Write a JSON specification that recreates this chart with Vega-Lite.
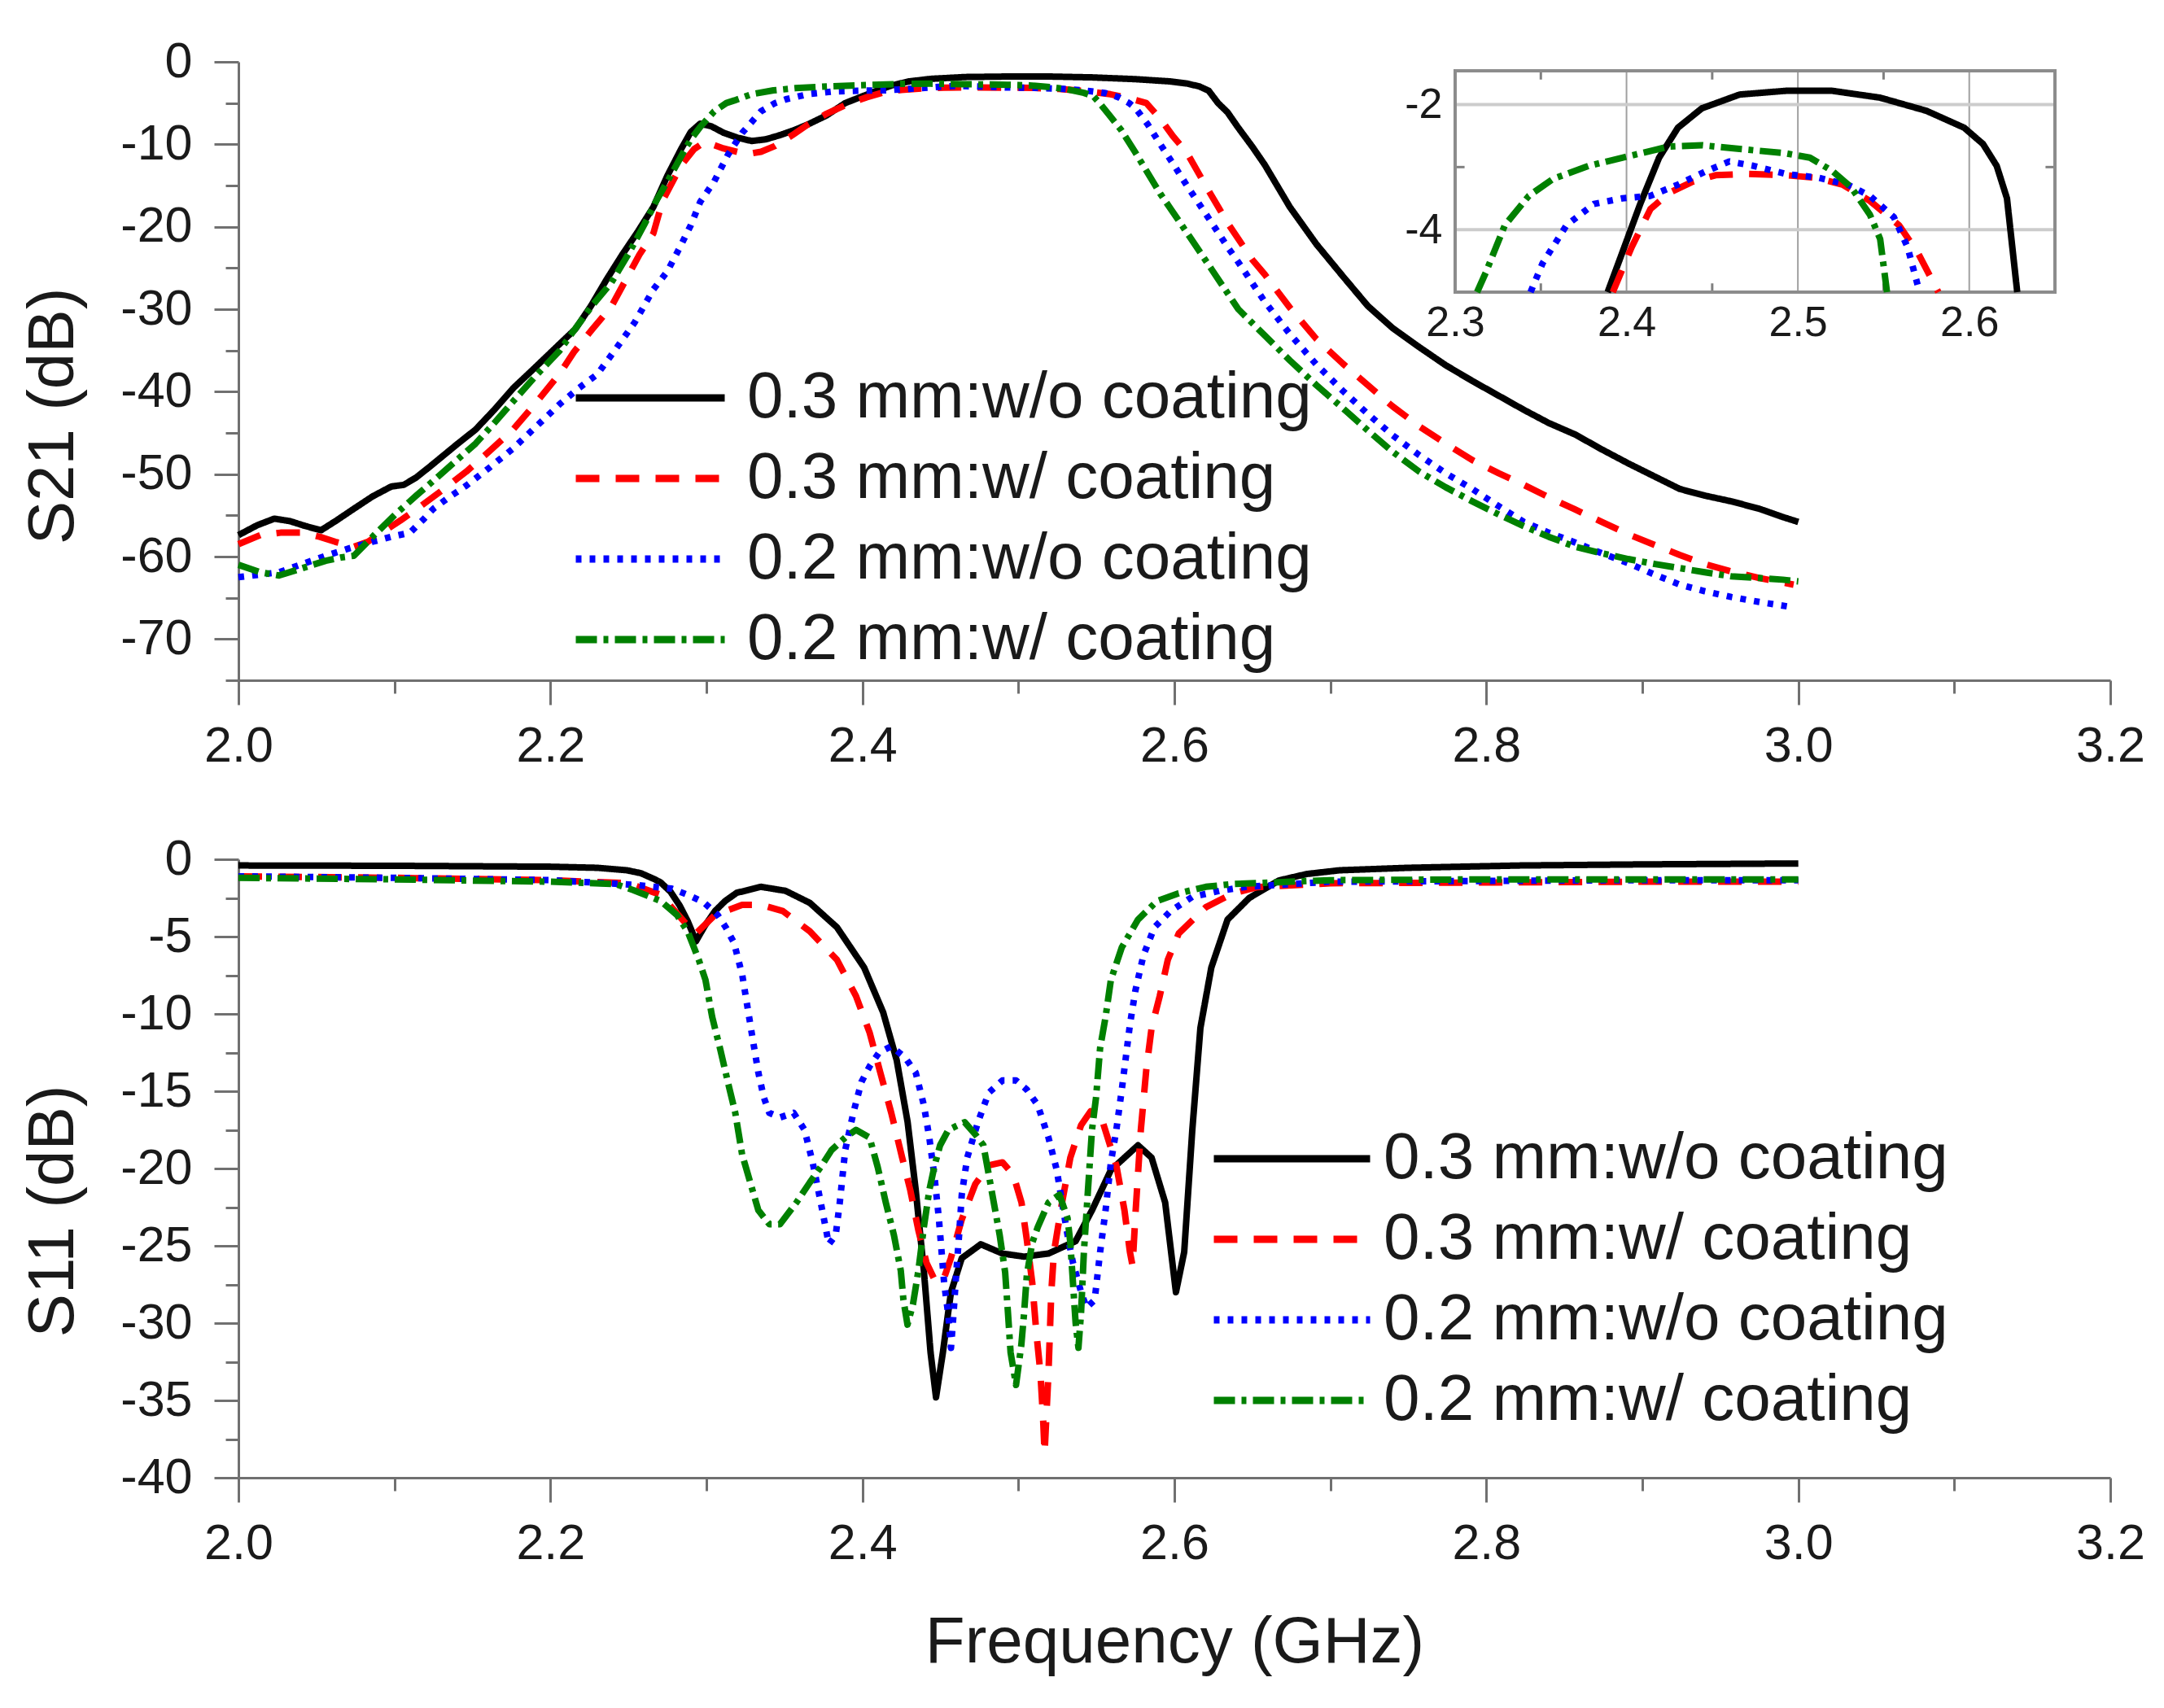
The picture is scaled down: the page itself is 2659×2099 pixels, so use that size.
{
"$schema": "https://vega.github.io/schema/vega-lite/v6.json",
"padding": {"left": 25, "top": 45, "right": 20, "bottom": 10},
"background": "white",
"bounds": "flush",
"spacing": 220,
"config": {
  "view": {"stroke": null},
  "font": "Liberation Sans",
  "axis": {"domainColor": "#707070", "tickColor": "#707070", "domainWidth": 3, "tickWidth": 3, "labelFont": "Liberation Sans", "labelColor": "#1a1a1a", "titleFont": "Liberation Sans", "titleFontWeight": "normal", "titleColor": "#1a1a1a", "grid": false, "labelFlush": false, "labelOverlap": false},
  "legend": {"title": null, "symbolType": "stroke", "labelFont": "Liberation Sans", "labelFontSize": 80, "labelColor": "#1a1a1a", "padding": 0, "rowPadding": 19, "clipHeight": 80, "symbolStrokeWidth": 9, "symbolOpacity": 1, "labelLimit": 2000}
},
"datasets": {
"s21": [
{"series":"0.3 mm:w/o coating","f":2.0,"db":-57.4},{"series":"0.3 mm:w/o coating","f":2.012,"db":-56.2},{"series":"0.3 mm:w/o coating","f":2.023,"db":-55.4},{"series":"0.3 mm:w/o coating","f":2.033,"db":-55.7},{"series":"0.3 mm:w/o coating","f":2.043,"db":-56.3},{"series":"0.3 mm:w/o coating","f":2.053,"db":-56.8},{"series":"0.3 mm:w/o coating","f":2.063,"db":-55.6},{"series":"0.3 mm:w/o coating","f":2.074,"db":-54.2},{"series":"0.3 mm:w/o coating","f":2.086,"db":-52.7},{"series":"0.3 mm:w/o coating","f":2.098,"db":-51.5},{"series":"0.3 mm:w/o coating","f":2.106,"db":-51.3},{"series":"0.3 mm:w/o coating","f":2.114,"db":-50.4},{"series":"0.3 mm:w/o coating","f":2.122,"db":-49.2},{"series":"0.3 mm:w/o coating","f":2.131,"db":-47.8},{"series":"0.3 mm:w/o coating","f":2.14,"db":-46.4},{"series":"0.3 mm:w/o coating","f":2.152,"db":-44.6},{"series":"0.3 mm:w/o coating","f":2.164,"db":-42.2},{"series":"0.3 mm:w/o coating","f":2.176,"db":-39.6},{"series":"0.3 mm:w/o coating","f":2.19,"db":-37.1},{"series":"0.3 mm:w/o coating","f":2.206,"db":-34.2},{"series":"0.3 mm:w/o coating","f":2.216,"db":-32.4},{"series":"0.3 mm:w/o coating","f":2.226,"db":-29.6},{"series":"0.3 mm:w/o coating","f":2.236,"db":-26.4},{"series":"0.3 mm:w/o coating","f":2.246,"db":-23.4},{"series":"0.3 mm:w/o coating","f":2.256,"db":-20.6},{"series":"0.3 mm:w/o coating","f":2.266,"db":-17.6},{"series":"0.3 mm:w/o coating","f":2.275,"db":-13.8},{"series":"0.3 mm:w/o coating","f":2.284,"db":-10.5},{"series":"0.3 mm:w/o coating","f":2.29,"db":-8.5},{"series":"0.3 mm:w/o coating","f":2.296,"db":-7.5},{"series":"0.3 mm:w/o coating","f":2.303,"db":-7.8},{"series":"0.3 mm:w/o coating","f":2.311,"db":-8.6},{"series":"0.3 mm:w/o coating","f":2.32,"db":-9.2},{"series":"0.3 mm:w/o coating","f":2.329,"db":-9.6},{"series":"0.3 mm:w/o coating","f":2.338,"db":-9.4},{"series":"0.3 mm:w/o coating","f":2.347,"db":-8.9},{"series":"0.3 mm:w/o coating","f":2.356,"db":-8.3},{"series":"0.3 mm:w/o coating","f":2.365,"db":-7.6},{"series":"0.3 mm:w/o coating","f":2.377,"db":-6.5},{"series":"0.3 mm:w/o coating","f":2.389,"db":-5.0},{"series":"0.3 mm:w/o coating","f":2.3975,"db":-4.37},{"series":"0.3 mm:w/o coating","f":2.408,"db":-3.59},{"series":"0.3 mm:w/o coating","f":2.419,"db":-2.85},{"series":"0.3 mm:w/o coating","f":2.43,"db":-2.37},{"series":"0.3 mm:w/o coating","f":2.444,"db":-2.06},{"series":"0.3 mm:w/o coating","f":2.466,"db":-1.84},{"series":"0.3 mm:w/o coating","f":2.493,"db":-1.78},{"series":"0.3 mm:w/o coating","f":2.52,"db":-1.78},{"series":"0.3 mm:w/o coating","f":2.548,"db":-1.89},{"series":"0.3 mm:w/o coating","f":2.575,"db":-2.1},{"series":"0.3 mm:w/o coating","f":2.597,"db":-2.37},{"series":"0.3 mm:w/o coating","f":2.608,"db":-2.63},{"series":"0.3 mm:w/o coating","f":2.616,"db":-2.98},{"series":"0.3 mm:w/o coating","f":2.622,"db":-3.5},{"series":"0.3 mm:w/o coating","f":2.628,"db":-5.0},{"series":"0.3 mm:w/o coating","f":2.634,"db":-6.1},{"series":"0.3 mm:w/o coating","f":2.641,"db":-8.0},{"series":"0.3 mm:w/o coating","f":2.65,"db":-10.3},{"series":"0.3 mm:w/o coating","f":2.658,"db":-12.5},{"series":"0.3 mm:w/o coating","f":2.674,"db":-17.6},{"series":"0.3 mm:w/o coating","f":2.691,"db":-22.1},{"series":"0.3 mm:w/o coating","f":2.708,"db":-26.0},{"series":"0.3 mm:w/o coating","f":2.724,"db":-29.6},{"series":"0.3 mm:w/o coating","f":2.74,"db":-32.3},{"series":"0.3 mm:w/o coating","f":2.757,"db":-34.6},{"series":"0.3 mm:w/o coating","f":2.774,"db":-36.8},{"series":"0.3 mm:w/o coating","f":2.791,"db":-38.7},{"series":"0.3 mm:w/o coating","f":2.808,"db":-40.5},{"series":"0.3 mm:w/o coating","f":2.824,"db":-42.2},{"series":"0.3 mm:w/o coating","f":2.84,"db":-43.8},{"series":"0.3 mm:w/o coating","f":2.857,"db":-45.2},{"series":"0.3 mm:w/o coating","f":2.874,"db":-47.0},{"series":"0.3 mm:w/o coating","f":2.891,"db":-48.7},{"series":"0.3 mm:w/o coating","f":2.908,"db":-50.3},{"series":"0.3 mm:w/o coating","f":2.924,"db":-51.8},{"series":"0.3 mm:w/o coating","f":2.94,"db":-52.6},{"series":"0.3 mm:w/o coating","f":2.957,"db":-53.3},{"series":"0.3 mm:w/o coating","f":2.975,"db":-54.2},{"series":"0.3 mm:w/o coating","f":2.99,"db":-55.2},{"series":"0.3 mm:w/o coating","f":3.0,"db":-55.8},
{"series":"0.3 mm:w/ coating","f":2.0,"db":-58.5},{"series":"0.3 mm:w/ coating","f":2.014,"db":-57.4},{"series":"0.3 mm:w/ coating","f":2.027,"db":-57.1},{"series":"0.3 mm:w/ coating","f":2.041,"db":-57.1},{"series":"0.3 mm:w/ coating","f":2.052,"db":-57.6},{"series":"0.3 mm:w/ coating","f":2.062,"db":-58.2},{"series":"0.3 mm:w/ coating","f":2.074,"db":-58.8},{"series":"0.3 mm:w/ coating","f":2.083,"db":-58.2},{"series":"0.3 mm:w/ coating","f":2.092,"db":-57.1},{"series":"0.3 mm:w/ coating","f":2.104,"db":-55.6},{"series":"0.3 mm:w/ coating","f":2.116,"db":-54.0},{"series":"0.3 mm:w/ coating","f":2.131,"db":-51.9},{"series":"0.3 mm:w/ coating","f":2.146,"db":-49.7},{"series":"0.3 mm:w/ coating","f":2.161,"db":-47.2},{"series":"0.3 mm:w/ coating","f":2.176,"db":-44.6},{"series":"0.3 mm:w/ coating","f":2.191,"db":-41.3},{"series":"0.3 mm:w/ coating","f":2.206,"db":-37.8},{"series":"0.3 mm:w/ coating","f":2.215,"db":-35.2},{"series":"0.3 mm:w/ coating","f":2.227,"db":-32.4},{"series":"0.3 mm:w/ coating","f":2.239,"db":-29.7},{"series":"0.3 mm:w/ coating","f":2.257,"db":-23.4},{"series":"0.3 mm:w/ coating","f":2.266,"db":-20.8},{"series":"0.3 mm:w/ coating","f":2.272,"db":-16.8},{"series":"0.3 mm:w/ coating","f":2.284,"db":-12.5},{"series":"0.3 mm:w/ coating","f":2.292,"db":-10.6},{"series":"0.3 mm:w/ coating","f":2.299,"db":-9.7},{"series":"0.3 mm:w/ coating","f":2.311,"db":-10.5},{"series":"0.3 mm:w/ coating","f":2.326,"db":-11.2},{"series":"0.3 mm:w/ coating","f":2.335,"db":-10.9},{"series":"0.3 mm:w/ coating","f":2.344,"db":-10.2},{"series":"0.3 mm:w/ coating","f":2.355,"db":-8.9},{"series":"0.3 mm:w/ coating","f":2.365,"db":-7.6},{"series":"0.3 mm:w/ coating","f":2.377,"db":-6.3},{"series":"0.3 mm:w/ coating","f":2.392,"db":-5.0},{"series":"0.3 mm:w/ coating","f":2.403,"db":-4.28},{"series":"0.3 mm:w/ coating","f":2.414,"db":-3.67},{"series":"0.3 mm:w/ coating","f":2.425,"db":-3.41},{"series":"0.3 mm:w/ coating","f":2.438,"db":-3.24},{"series":"0.3 mm:w/ coating","f":2.452,"db":-3.13},{"series":"0.3 mm:w/ coating","f":2.471,"db":-3.11},{"series":"0.3 mm:w/ coating","f":2.493,"db":-3.13},{"series":"0.3 mm:w/ coating","f":2.51,"db":-3.17},{"series":"0.3 mm:w/ coating","f":2.526,"db":-3.28},{"series":"0.3 mm:w/ coating","f":2.542,"db":-3.54},{"series":"0.3 mm:w/ coating","f":2.559,"db":-3.93},{"series":"0.3 mm:w/ coating","f":2.57,"db":-4.37},{"series":"0.3 mm:w/ coating","f":2.582,"db":-5.0},{"series":"0.3 mm:w/ coating","f":2.591,"db":-6.9},{"series":"0.3 mm:w/ coating","f":2.599,"db":-9.0},{"series":"0.3 mm:w/ coating","f":2.608,"db":-11.0},{"series":"0.3 mm:w/ coating","f":2.62,"db":-15.0},{"series":"0.3 mm:w/ coating","f":2.635,"db":-19.8},{"series":"0.3 mm:w/ coating","f":2.65,"db":-24.0},{"series":"0.3 mm:w/ coating","f":2.658,"db":-25.8},{"series":"0.3 mm:w/ coating","f":2.674,"db":-29.8},{"series":"0.3 mm:w/ coating","f":2.691,"db":-33.6},{"series":"0.3 mm:w/ coating","f":2.708,"db":-36.6},{"series":"0.3 mm:w/ coating","f":2.724,"db":-39.2},{"series":"0.3 mm:w/ coating","f":2.74,"db":-41.8},{"series":"0.3 mm:w/ coating","f":2.757,"db":-44.2},{"series":"0.3 mm:w/ coating","f":2.774,"db":-46.3},{"series":"0.3 mm:w/ coating","f":2.791,"db":-48.3},{"series":"0.3 mm:w/ coating","f":2.808,"db":-49.9},{"series":"0.3 mm:w/ coating","f":2.824,"db":-51.3},{"series":"0.3 mm:w/ coating","f":2.84,"db":-52.8},{"series":"0.3 mm:w/ coating","f":2.857,"db":-54.3},{"series":"0.3 mm:w/ coating","f":2.874,"db":-55.8},{"series":"0.3 mm:w/ coating","f":2.891,"db":-57.3},{"series":"0.3 mm:w/ coating","f":2.908,"db":-58.6},{"series":"0.3 mm:w/ coating","f":2.924,"db":-59.8},{"series":"0.3 mm:w/ coating","f":2.94,"db":-60.9},{"series":"0.3 mm:w/ coating","f":2.957,"db":-61.8},{"series":"0.3 mm:w/ coating","f":2.975,"db":-62.6},{"series":"0.3 mm:w/ coating","f":2.997,"db":-63.4},
{"series":"0.2 mm:w/o coating","f":2.0,"db":-62.5},{"series":"0.2 mm:w/o coating","f":2.013,"db":-62.2},{"series":"0.2 mm:w/o coating","f":2.026,"db":-61.9},{"series":"0.2 mm:w/o coating","f":2.041,"db":-60.9},{"series":"0.2 mm:w/o coating","f":2.056,"db":-59.9},{"series":"0.2 mm:w/o coating","f":2.071,"db":-59.0},{"series":"0.2 mm:w/o coating","f":2.086,"db":-58.2},{"series":"0.2 mm:w/o coating","f":2.098,"db":-57.6},{"series":"0.2 mm:w/o coating","f":2.11,"db":-57.1},{"series":"0.2 mm:w/o coating","f":2.118,"db":-55.6},{"series":"0.2 mm:w/o coating","f":2.125,"db":-54.2},{"series":"0.2 mm:w/o coating","f":2.135,"db":-52.8},{"series":"0.2 mm:w/o coating","f":2.146,"db":-51.4},{"series":"0.2 mm:w/o coating","f":2.161,"db":-49.2},{"series":"0.2 mm:w/o coating","f":2.176,"db":-46.9},{"series":"0.2 mm:w/o coating","f":2.191,"db":-44.2},{"series":"0.2 mm:w/o coating","f":2.206,"db":-41.5},{"series":"0.2 mm:w/o coating","f":2.218,"db":-39.6},{"series":"0.2 mm:w/o coating","f":2.23,"db":-37.9},{"series":"0.2 mm:w/o coating","f":2.242,"db":-34.8},{"series":"0.2 mm:w/o coating","f":2.254,"db":-31.6},{"series":"0.2 mm:w/o coating","f":2.266,"db":-27.6},{"series":"0.2 mm:w/o coating","f":2.275,"db":-25.4},{"series":"0.2 mm:w/o coating","f":2.283,"db":-22.5},{"series":"0.2 mm:w/o coating","f":2.29,"db":-19.8},{"series":"0.2 mm:w/o coating","f":2.296,"db":-17.0},{"series":"0.2 mm:w/o coating","f":2.305,"db":-14.5},{"series":"0.2 mm:w/o coating","f":2.314,"db":-11.2},{"series":"0.2 mm:w/o coating","f":2.323,"db":-8.6},{"series":"0.2 mm:w/o coating","f":2.335,"db":-6.0},{"series":"0.2 mm:w/o coating","f":2.344,"db":-5.0},{"series":"0.2 mm:w/o coating","f":2.351,"db":-4.54},{"series":"0.2 mm:w/o coating","f":2.365,"db":-3.93},{"series":"0.2 mm:w/o coating","f":2.381,"db":-3.59},{"series":"0.2 mm:w/o coating","f":2.3975,"db":-3.5},{"series":"0.2 mm:w/o coating","f":2.414,"db":-3.46},{"series":"0.2 mm:w/o coating","f":2.43,"db":-3.28},{"series":"0.2 mm:w/o coating","f":2.447,"db":-3.06},{"series":"0.2 mm:w/o coating","f":2.46,"db":-2.91},{"series":"0.2 mm:w/o coating","f":2.474,"db":-2.98},{"series":"0.2 mm:w/o coating","f":2.493,"db":-3.11},{"series":"0.2 mm:w/o coating","f":2.512,"db":-3.17},{"series":"0.2 mm:w/o coating","f":2.529,"db":-3.28},{"series":"0.2 mm:w/o coating","f":2.542,"db":-3.46},{"series":"0.2 mm:w/o coating","f":2.556,"db":-3.8},{"series":"0.2 mm:w/o coating","f":2.564,"db":-4.28},{"series":"0.2 mm:w/o coating","f":2.571,"db":-5.0},{"series":"0.2 mm:w/o coating","f":2.575,"db":-5.6},{"series":"0.2 mm:w/o coating","f":2.583,"db":-7.6},{"series":"0.2 mm:w/o coating","f":2.591,"db":-10.0},{"series":"0.2 mm:w/o coating","f":2.6,"db":-12.6},{"series":"0.2 mm:w/o coating","f":2.608,"db":-15.0},{"series":"0.2 mm:w/o coating","f":2.62,"db":-18.4},{"series":"0.2 mm:w/o coating","f":2.635,"db":-22.7},{"series":"0.2 mm:w/o coating","f":2.641,"db":-24.3},{"series":"0.2 mm:w/o coating","f":2.658,"db":-29.1},{"series":"0.2 mm:w/o coating","f":2.674,"db":-33.0},{"series":"0.2 mm:w/o coating","f":2.691,"db":-36.7},{"series":"0.2 mm:w/o coating","f":2.708,"db":-39.9},{"series":"0.2 mm:w/o coating","f":2.724,"db":-42.7},{"series":"0.2 mm:w/o coating","f":2.74,"db":-45.3},{"series":"0.2 mm:w/o coating","f":2.757,"db":-47.7},{"series":"0.2 mm:w/o coating","f":2.774,"db":-49.9},{"series":"0.2 mm:w/o coating","f":2.791,"db":-51.8},{"series":"0.2 mm:w/o coating","f":2.808,"db":-53.9},{"series":"0.2 mm:w/o coating","f":2.824,"db":-55.8},{"series":"0.2 mm:w/o coating","f":2.84,"db":-57.1},{"series":"0.2 mm:w/o coating","f":2.857,"db":-58.3},{"series":"0.2 mm:w/o coating","f":2.874,"db":-59.6},{"series":"0.2 mm:w/o coating","f":2.891,"db":-60.8},{"series":"0.2 mm:w/o coating","f":2.908,"db":-62.2},{"series":"0.2 mm:w/o coating","f":2.924,"db":-63.4},{"series":"0.2 mm:w/o coating","f":2.94,"db":-64.2},{"series":"0.2 mm:w/o coating","f":2.957,"db":-64.9},{"series":"0.2 mm:w/o coating","f":2.975,"db":-65.5},{"series":"0.2 mm:w/o coating","f":2.995,"db":-66.1},
{"series":"0.2 mm:w/ coating","f":2.0,"db":-61.0},{"series":"0.2 mm:w/ coating","f":2.014,"db":-61.9},{"series":"0.2 mm:w/ coating","f":2.026,"db":-62.3},{"series":"0.2 mm:w/ coating","f":2.041,"db":-61.4},{"series":"0.2 mm:w/ coating","f":2.056,"db":-60.5},{"series":"0.2 mm:w/ coating","f":2.066,"db":-60.1},{"series":"0.2 mm:w/ coating","f":2.074,"db":-59.9},{"series":"0.2 mm:w/ coating","f":2.087,"db":-57.4},{"series":"0.2 mm:w/ coating","f":2.101,"db":-54.8},{"series":"0.2 mm:w/ coating","f":2.114,"db":-52.6},{"series":"0.2 mm:w/ coating","f":2.128,"db":-50.3},{"series":"0.2 mm:w/ coating","f":2.14,"db":-48.3},{"series":"0.2 mm:w/ coating","f":2.152,"db":-46.3},{"series":"0.2 mm:w/ coating","f":2.164,"db":-43.8},{"series":"0.2 mm:w/ coating","f":2.176,"db":-41.2},{"series":"0.2 mm:w/ coating","f":2.19,"db":-38.2},{"series":"0.2 mm:w/ coating","f":2.206,"db":-35.0},{"series":"0.2 mm:w/ coating","f":2.215,"db":-32.6},{"series":"0.2 mm:w/ coating","f":2.227,"db":-29.5},{"series":"0.2 mm:w/ coating","f":2.239,"db":-26.8},{"series":"0.2 mm:w/ coating","f":2.25,"db":-23.3},{"series":"0.2 mm:w/ coating","f":2.26,"db":-19.8},{"series":"0.2 mm:w/ coating","f":2.268,"db":-16.8},{"series":"0.2 mm:w/ coating","f":2.275,"db":-14.5},{"series":"0.2 mm:w/ coating","f":2.284,"db":-11.4},{"series":"0.2 mm:w/ coating","f":2.29,"db":-9.4},{"series":"0.2 mm:w/ coating","f":2.296,"db":-7.9},{"series":"0.2 mm:w/ coating","f":2.305,"db":-6.0},{"series":"0.2 mm:w/ coating","f":2.3128,"db":-5.0},{"series":"0.2 mm:w/ coating","f":2.318,"db":-4.68},{"series":"0.2 mm:w/ coating","f":2.329,"db":-3.93},{"series":"0.2 mm:w/ coating","f":2.343,"db":-3.46},{"series":"0.2 mm:w/ coating","f":2.357,"db":-3.19},{"series":"0.2 mm:w/ coating","f":2.378,"db":-2.98},{"series":"0.2 mm:w/ coating","f":2.3975,"db":-2.85},{"series":"0.2 mm:w/ coating","f":2.425,"db":-2.67},{"series":"0.2 mm:w/ coating","f":2.444,"db":-2.65},{"series":"0.2 mm:w/ coating","f":2.466,"db":-2.71},{"series":"0.2 mm:w/ coating","f":2.493,"db":-2.78},{"series":"0.2 mm:w/ coating","f":2.507,"db":-2.85},{"series":"0.2 mm:w/ coating","f":2.52,"db":-3.06},{"series":"0.2 mm:w/ coating","f":2.531,"db":-3.32},{"series":"0.2 mm:w/ coating","f":2.542,"db":-3.76},{"series":"0.2 mm:w/ coating","f":2.548,"db":-4.15},{"series":"0.2 mm:w/ coating","f":2.552,"db":-5.0},{"series":"0.2 mm:w/ coating","f":2.558,"db":-6.4},{"series":"0.2 mm:w/ coating","f":2.566,"db":-8.3},{"series":"0.2 mm:w/ coating","f":2.575,"db":-11.0},{"series":"0.2 mm:w/ coating","f":2.591,"db":-16.0},{"series":"0.2 mm:w/ coating","f":2.608,"db":-20.7},{"series":"0.2 mm:w/ coating","f":2.624,"db":-25.2},{"series":"0.2 mm:w/ coating","f":2.641,"db":-30.0},{"series":"0.2 mm:w/ coating","f":2.658,"db":-33.2},{"series":"0.2 mm:w/ coating","f":2.674,"db":-36.2},{"series":"0.2 mm:w/ coating","f":2.691,"db":-39.2},{"series":"0.2 mm:w/ coating","f":2.708,"db":-42.0},{"series":"0.2 mm:w/ coating","f":2.724,"db":-44.7},{"series":"0.2 mm:w/ coating","f":2.74,"db":-47.3},{"series":"0.2 mm:w/ coating","f":2.757,"db":-49.7},{"series":"0.2 mm:w/ coating","f":2.774,"db":-51.6},{"series":"0.2 mm:w/ coating","f":2.791,"db":-53.3},{"series":"0.2 mm:w/ coating","f":2.808,"db":-54.9},{"series":"0.2 mm:w/ coating","f":2.824,"db":-56.3},{"series":"0.2 mm:w/ coating","f":2.84,"db":-57.6},{"series":"0.2 mm:w/ coating","f":2.857,"db":-58.8},{"series":"0.2 mm:w/ coating","f":2.874,"db":-59.6},{"series":"0.2 mm:w/ coating","f":2.891,"db":-60.3},{"series":"0.2 mm:w/ coating","f":2.908,"db":-60.9},{"series":"0.2 mm:w/ coating","f":2.924,"db":-61.4},{"series":"0.2 mm:w/ coating","f":2.94,"db":-61.9},{"series":"0.2 mm:w/ coating","f":2.957,"db":-62.4},{"series":"0.2 mm:w/ coating","f":2.975,"db":-62.6},{"series":"0.2 mm:w/ coating","f":2.99,"db":-62.8},{"series":"0.2 mm:w/ coating","f":3.0,"db":-63.0}
],
"s11": [
{"series":"0.3 mm:w/o coating","f":2.0,"db":-0.4},{"series":"0.3 mm:w/o coating","f":2.1,"db":-0.42},{"series":"0.3 mm:w/o coating","f":2.2,"db":-0.48},{"series":"0.3 mm:w/o coating","f":2.23,"db":-0.55},{"series":"0.3 mm:w/o coating","f":2.249,"db":-0.71},{"series":"0.3 mm:w/o coating","f":2.258,"db":-0.9},{"series":"0.3 mm:w/o coating","f":2.267,"db":-1.3},{"series":"0.3 mm:w/o coating","f":2.2707,"db":-1.5},{"series":"0.3 mm:w/o coating","f":2.277,"db":-2.1},{"series":"0.3 mm:w/o coating","f":2.2829,"db":-3.0},{"series":"0.3 mm:w/o coating","f":2.288,"db":-4.0},{"series":"0.3 mm:w/o coating","f":2.2933,"db":-5.3},{"series":"0.3 mm:w/o coating","f":2.299,"db":-4.3},{"series":"0.3 mm:w/o coating","f":2.3055,"db":-3.35},{"series":"0.3 mm:w/o coating","f":2.312,"db":-2.7},{"series":"0.3 mm:w/o coating","f":2.3194,"db":-2.17},{"series":"0.3 mm:w/o coating","f":2.335,"db":-1.78},{"series":"0.3 mm:w/o coating","f":2.3507,"db":-2.04},{"series":"0.3 mm:w/o coating","f":2.3663,"db":-2.82},{"series":"0.3 mm:w/o coating","f":2.3837,"db":-4.4},{"series":"0.3 mm:w/o coating","f":2.4011,"db":-7.0},{"series":"0.3 mm:w/o coating","f":2.4133,"db":-9.9},{"series":"0.3 mm:w/o coating","f":2.422,"db":-13.0},{"series":"0.3 mm:w/o coating","f":2.429,"db":-17.0},{"series":"0.3 mm:w/o coating","f":2.4342,"db":-21.4},{"series":"0.3 mm:w/o coating","f":2.4394,"db":-26.6},{"series":"0.3 mm:w/o coating","f":2.4437,"db":-31.9},{"series":"0.3 mm:w/o coating","f":2.4472,"db":-34.8},{"series":"0.3 mm:w/o coating","f":2.4516,"db":-31.9},{"series":"0.3 mm:w/o coating","f":2.455,"db":-29.3},{"series":"0.3 mm:w/o coating","f":2.4568,"db":-28.0},{"series":"0.3 mm:w/o coating","f":2.4637,"db":-25.8},{"series":"0.3 mm:w/o coating","f":2.4759,"db":-24.9},{"series":"0.3 mm:w/o coating","f":2.4898,"db":-25.5},{"series":"0.3 mm:w/o coating","f":2.5037,"db":-25.7},{"series":"0.3 mm:w/o coating","f":2.5193,"db":-25.5},{"series":"0.3 mm:w/o coating","f":2.5367,"db":-24.7},{"series":"0.3 mm:w/o coating","f":2.5472,"db":-22.7},{"series":"0.3 mm:w/o coating","f":2.5593,"db":-20.1},{"series":"0.3 mm:w/o coating","f":2.5767,"db":-18.5},{"series":"0.3 mm:w/o coating","f":2.5854,"db":-19.3},{"series":"0.3 mm:w/o coating","f":2.5941,"db":-22.2},{"series":"0.3 mm:w/o coating","f":2.601,"db":-28.0},{"series":"0.3 mm:w/o coating","f":2.6063,"db":-25.4},{"series":"0.3 mm:w/o coating","f":2.6115,"db":-17.5},{"series":"0.3 mm:w/o coating","f":2.6167,"db":-10.9},{"series":"0.3 mm:w/o coating","f":2.6237,"db":-7.0},{"series":"0.3 mm:w/o coating","f":2.6341,"db":-3.9},{"series":"0.3 mm:w/o coating","f":2.648,"db":-2.5},{"series":"0.3 mm:w/o coating","f":2.667,"db":-1.37},{"series":"0.3 mm:w/o coating","f":2.685,"db":-0.95},{"series":"0.3 mm:w/o coating","f":2.706,"db":-0.71},{"series":"0.3 mm:w/o coating","f":2.75,"db":-0.55},{"series":"0.3 mm:w/o coating","f":2.822,"db":-0.4},{"series":"0.3 mm:w/o coating","f":2.9,"db":-0.33},{"series":"0.3 mm:w/o coating","f":3.0,"db":-0.27},
{"series":"0.3 mm:w/ coating","f":2.0,"db":-1.1},{"series":"0.3 mm:w/ coating","f":2.1,"db":-1.2},{"series":"0.3 mm:w/ coating","f":2.2,"db":-1.35},{"series":"0.3 mm:w/ coating","f":2.25,"db":-1.55},{"series":"0.3 mm:w/ coating","f":2.2707,"db":-2.3},{"series":"0.3 mm:w/ coating","f":2.2863,"db":-4.1},{"series":"0.3 mm:w/ coating","f":2.2933,"db":-4.8},{"series":"0.3 mm:w/ coating","f":2.3055,"db":-3.6},{"series":"0.3 mm:w/ coating","f":2.3229,"db":-2.95},{"series":"0.3 mm:w/ coating","f":2.335,"db":-2.95},{"series":"0.3 mm:w/ coating","f":2.349,"db":-3.35},{"series":"0.3 mm:w/ coating","f":2.3663,"db":-4.66},{"series":"0.3 mm:w/ coating","f":2.3837,"db":-6.5},{"series":"0.3 mm:w/ coating","f":2.3959,"db":-8.85},{"series":"0.3 mm:w/ coating","f":2.4046,"db":-11.2},{"series":"0.3 mm:w/ coating","f":2.4115,"db":-13.8},{"series":"0.3 mm:w/ coating","f":2.4185,"db":-16.4},{"series":"0.3 mm:w/ coating","f":2.4255,"db":-19.3},{"series":"0.3 mm:w/ coating","f":2.4307,"db":-21.4},{"series":"0.3 mm:w/ coating","f":2.4359,"db":-24.0},{"series":"0.3 mm:w/ coating","f":2.4411,"db":-26.1},{"series":"0.3 mm:w/ coating","f":2.4463,"db":-27.2},{"series":"0.3 mm:w/ coating","f":2.4516,"db":-27.3},{"series":"0.3 mm:w/ coating","f":2.4567,"db":-25.8},{"series":"0.3 mm:w/ coating","f":2.4637,"db":-23.3},{"series":"0.3 mm:w/ coating","f":2.4724,"db":-21.0},{"series":"0.3 mm:w/ coating","f":2.481,"db":-19.8},{"series":"0.3 mm:w/ coating","f":2.4898,"db":-19.6},{"series":"0.3 mm:w/ coating","f":2.4967,"db":-20.4},{"series":"0.3 mm:w/ coating","f":2.502,"db":-22.2},{"series":"0.3 mm:w/ coating","f":2.5054,"db":-24.6},{"series":"0.3 mm:w/ coating","f":2.5089,"db":-27.4},{"series":"0.3 mm:w/ coating","f":2.5115,"db":-30.6},{"series":"0.3 mm:w/ coating","f":2.5141,"db":-33.2},{"series":"0.3 mm:w/ coating","f":2.5159,"db":-36.3},{"series":"0.3 mm:w/ coating","f":2.5168,"db":-38.4},{"series":"0.3 mm:w/ coating","f":2.5193,"db":-33.2},{"series":"0.3 mm:w/ coating","f":2.5211,"db":-28.0},{"series":"0.3 mm:w/ coating","f":2.5228,"db":-25.4},{"series":"0.3 mm:w/ coating","f":2.528,"db":-22.2},{"series":"0.3 mm:w/ coating","f":2.5333,"db":-19.3},{"series":"0.3 mm:w/ coating","f":2.5402,"db":-17.2},{"series":"0.3 mm:w/ coating","f":2.5463,"db":-16.3},{"series":"0.3 mm:w/ coating","f":2.5541,"db":-17.0},{"series":"0.3 mm:w/ coating","f":2.5628,"db":-19.8},{"series":"0.3 mm:w/ coating","f":2.568,"db":-22.7},{"series":"0.3 mm:w/ coating","f":2.5715,"db":-25.4},{"series":"0.3 mm:w/ coating","f":2.5732,"db":-26.3},{"series":"0.3 mm:w/ coating","f":2.5752,"db":-22.7},{"series":"0.3 mm:w/ coating","f":2.5785,"db":-17.5},{"series":"0.3 mm:w/ coating","f":2.582,"db":-13.6},{"series":"0.3 mm:w/ coating","f":2.5854,"db":-10.9},{"series":"0.3 mm:w/ coating","f":2.5906,"db":-8.85},{"series":"0.3 mm:w/ coating","f":2.5958,"db":-6.5},{"series":"0.3 mm:w/ coating","f":2.6028,"db":-4.8},{"series":"0.3 mm:w/ coating","f":2.6202,"db":-3.1},{"series":"0.3 mm:w/ coating","f":2.6376,"db":-2.2},{"series":"0.3 mm:w/ coating","f":2.6533,"db":-1.8},{"series":"0.3 mm:w/ coating","f":2.7,"db":-1.55},{"series":"0.3 mm:w/ coating","f":2.8,"db":-1.5},{"series":"0.3 mm:w/ coating","f":2.9,"db":-1.45},{"series":"0.3 mm:w/ coating","f":3.0,"db":-1.45},
{"series":"0.2 mm:w/o coating","f":2.0,"db":-1.1},{"series":"0.2 mm:w/o coating","f":2.1,"db":-1.2},{"series":"0.2 mm:w/o coating","f":2.2,"db":-1.35},{"series":"0.2 mm:w/o coating","f":2.2533,"db":-1.65},{"series":"0.2 mm:w/o coating","f":2.2777,"db":-1.9},{"series":"0.2 mm:w/o coating","f":2.2881,"db":-2.3},{"series":"0.2 mm:w/o coating","f":2.2985,"db":-2.8},{"series":"0.2 mm:w/o coating","f":2.3072,"db":-3.6},{"series":"0.2 mm:w/o coating","f":2.3124,"db":-4.4},{"series":"0.2 mm:w/o coating","f":2.3177,"db":-5.4},{"series":"0.2 mm:w/o coating","f":2.323,"db":-7.5},{"series":"0.2 mm:w/o coating","f":2.3264,"db":-9.6},{"series":"0.2 mm:w/o coating","f":2.3298,"db":-11.7},{"series":"0.2 mm:w/o coating","f":2.3333,"db":-13.8},{"series":"0.2 mm:w/o coating","f":2.3368,"db":-15.4},{"series":"0.2 mm:w/o coating","f":2.3403,"db":-16.4},{"series":"0.2 mm:w/o coating","f":2.3472,"db":-16.7},{"series":"0.2 mm:w/o coating","f":2.3559,"db":-16.4},{"series":"0.2 mm:w/o coating","f":2.3629,"db":-17.5},{"series":"0.2 mm:w/o coating","f":2.3681,"db":-19.6},{"series":"0.2 mm:w/o coating","f":2.3733,"db":-22.2},{"series":"0.2 mm:w/o coating","f":2.3785,"db":-24.9},{"series":"0.2 mm:w/o coating","f":2.3829,"db":-24.3},{"series":"0.2 mm:w/o coating","f":2.3855,"db":-22.2},{"series":"0.2 mm:w/o coating","f":2.389,"db":-18.8},{"series":"0.2 mm:w/o coating","f":2.3942,"db":-16.4},{"series":"0.2 mm:w/o coating","f":2.3994,"db":-14.4},{"series":"0.2 mm:w/o coating","f":2.4046,"db":-13.4},{"series":"0.2 mm:w/o coating","f":2.4107,"db":-12.5},{"series":"0.2 mm:w/o coating","f":2.4185,"db":-12.1},{"series":"0.2 mm:w/o coating","f":2.4272,"db":-12.8},{"series":"0.2 mm:w/o coating","f":2.4342,"db":-13.8},{"series":"0.2 mm:w/o coating","f":2.4394,"db":-15.9},{"series":"0.2 mm:w/o coating","f":2.4429,"db":-18.0},{"series":"0.2 mm:w/o coating","f":2.4463,"db":-20.6},{"series":"0.2 mm:w/o coating","f":2.449,"db":-23.2},{"series":"0.2 mm:w/o coating","f":2.4507,"db":-25.3},{"series":"0.2 mm:w/o coating","f":2.4524,"db":-27.4},{"series":"0.2 mm:w/o coating","f":2.4551,"db":-29.5},{"series":"0.2 mm:w/o coating","f":2.4568,"db":-31.6},{"series":"0.2 mm:w/o coating","f":2.4585,"db":-29.3},{"series":"0.2 mm:w/o coating","f":2.4602,"db":-26.7},{"series":"0.2 mm:w/o coating","f":2.462,"db":-24.3},{"series":"0.2 mm:w/o coating","f":2.4637,"db":-21.7},{"series":"0.2 mm:w/o coating","f":2.4672,"db":-19.3},{"series":"0.2 mm:w/o coating","f":2.4741,"db":-17.0},{"series":"0.2 mm:w/o coating","f":2.481,"db":-15.1},{"series":"0.2 mm:w/o coating","f":2.4898,"db":-14.3},{"series":"0.2 mm:w/o coating","f":2.4985,"db":-14.3},{"series":"0.2 mm:w/o coating","f":2.5054,"db":-14.9},{"series":"0.2 mm:w/o coating","f":2.5124,"db":-15.9},{"series":"0.2 mm:w/o coating","f":2.5193,"db":-18.0},{"series":"0.2 mm:w/o coating","f":2.5246,"db":-20.1},{"series":"0.2 mm:w/o coating","f":2.528,"db":-22.2},{"series":"0.2 mm:w/o coating","f":2.5315,"db":-24.3},{"series":"0.2 mm:w/o coating","f":2.535,"db":-26.1},{"series":"0.2 mm:w/o coating","f":2.5402,"db":-28.0},{"series":"0.2 mm:w/o coating","f":2.5437,"db":-29.0},{"series":"0.2 mm:w/o coating","f":2.5489,"db":-28.5},{"series":"0.2 mm:w/o coating","f":2.5524,"db":-25.4},{"series":"0.2 mm:w/o coating","f":2.5559,"db":-22.7},{"series":"0.2 mm:w/o coating","f":2.5593,"db":-19.6},{"series":"0.2 mm:w/o coating","f":2.5628,"db":-17.5},{"series":"0.2 mm:w/o coating","f":2.5663,"db":-14.9},{"series":"0.2 mm:w/o coating","f":2.5689,"db":-12.8},{"series":"0.2 mm:w/o coating","f":2.5715,"db":-10.7},{"series":"0.2 mm:w/o coating","f":2.575,"db":-8.5},{"series":"0.2 mm:w/o coating","f":2.5802,"db":-6.2},{"series":"0.2 mm:w/o coating","f":2.5872,"db":-4.4},{"series":"0.2 mm:w/o coating","f":2.5976,"db":-3.35},{"series":"0.2 mm:w/o coating","f":2.6115,"db":-2.43},{"series":"0.2 mm:w/o coating","f":2.6289,"db":-2.04},{"series":"0.2 mm:w/o coating","f":2.6463,"db":-1.78},{"series":"0.2 mm:w/o coating","f":2.7,"db":-1.45},{"series":"0.2 mm:w/o coating","f":2.8,"db":-1.4},{"series":"0.2 mm:w/o coating","f":2.9,"db":-1.35},{"series":"0.2 mm:w/o coating","f":3.0,"db":-1.35},
{"series":"0.2 mm:w/ coating","f":2.0,"db":-1.2},{"series":"0.2 mm:w/ coating","f":2.1,"db":-1.3},{"series":"0.2 mm:w/ coating","f":2.2,"db":-1.45},{"series":"0.2 mm:w/ coating","f":2.2416,"db":-1.6},{"series":"0.2 mm:w/ coating","f":2.2533,"db":-2.0},{"series":"0.2 mm:w/ coating","f":2.2707,"db":-2.7},{"series":"0.2 mm:w/ coating","f":2.2811,"db":-3.6},{"series":"0.2 mm:w/ coating","f":2.2881,"db":-4.7},{"series":"0.2 mm:w/ coating","f":2.2951,"db":-6.5},{"series":"0.2 mm:w/ coating","f":2.2994,"db":-7.8},{"series":"0.2 mm:w/ coating","f":2.3037,"db":-10.2},{"series":"0.2 mm:w/ coating","f":2.3089,"db":-12.3},{"series":"0.2 mm:w/ coating","f":2.3142,"db":-14.6},{"series":"0.2 mm:w/ coating","f":2.3185,"db":-16.4},{"series":"0.2 mm:w/ coating","f":2.3229,"db":-19.1},{"series":"0.2 mm:w/ coating","f":2.3281,"db":-20.9},{"series":"0.2 mm:w/ coating","f":2.3333,"db":-22.7},{"series":"0.2 mm:w/ coating","f":2.3403,"db":-23.6},{"series":"0.2 mm:w/ coating","f":2.3472,"db":-23.6},{"series":"0.2 mm:w/ coating","f":2.3577,"db":-22.2},{"series":"0.2 mm:w/ coating","f":2.3663,"db":-20.9},{"series":"0.2 mm:w/ coating","f":2.3733,"db":-19.9},{"series":"0.2 mm:w/ coating","f":2.3803,"db":-18.8},{"series":"0.2 mm:w/ coating","f":2.389,"db":-18.0},{"series":"0.2 mm:w/ coating","f":2.3959,"db":-17.5},{"series":"0.2 mm:w/ coating","f":2.4046,"db":-18.0},{"series":"0.2 mm:w/ coating","f":2.4098,"db":-19.9},{"series":"0.2 mm:w/ coating","f":2.415,"db":-22.2},{"series":"0.2 mm:w/ coating","f":2.4202,"db":-24.3},{"series":"0.2 mm:w/ coating","f":2.4246,"db":-26.6},{"series":"0.2 mm:w/ coating","f":2.4263,"db":-28.5},{"series":"0.2 mm:w/ coating","f":2.4289,"db":-30.1},{"series":"0.2 mm:w/ coating","f":2.4324,"db":-28.8},{"series":"0.2 mm:w/ coating","f":2.4359,"db":-26.6},{"series":"0.2 mm:w/ coating","f":2.4394,"db":-23.8},{"series":"0.2 mm:w/ coating","f":2.4429,"db":-21.4},{"series":"0.2 mm:w/ coating","f":2.4463,"db":-19.8},{"series":"0.2 mm:w/ coating","f":2.4498,"db":-18.5},{"series":"0.2 mm:w/ coating","f":2.4551,"db":-17.5},{"series":"0.2 mm:w/ coating","f":2.4655,"db":-17.0},{"series":"0.2 mm:w/ coating","f":2.4724,"db":-17.8},{"series":"0.2 mm:w/ coating","f":2.4776,"db":-18.5},{"series":"0.2 mm:w/ coating","f":2.4828,"db":-21.4},{"series":"0.2 mm:w/ coating","f":2.488,"db":-24.3},{"series":"0.2 mm:w/ coating","f":2.4915,"db":-26.7},{"series":"0.2 mm:w/ coating","f":2.4933,"db":-29.3},{"series":"0.2 mm:w/ coating","f":2.495,"db":-31.9},{"series":"0.2 mm:w/ coating","f":2.4985,"db":-34.0},{"series":"0.2 mm:w/ coating","f":2.5019,"db":-31.4},{"series":"0.2 mm:w/ coating","f":2.5037,"db":-29.3},{"series":"0.2 mm:w/ coating","f":2.5054,"db":-26.9},{"series":"0.2 mm:w/ coating","f":2.5089,"db":-24.8},{"series":"0.2 mm:w/ coating","f":2.5124,"db":-23.8},{"series":"0.2 mm:w/ coating","f":2.5193,"db":-22.2},{"series":"0.2 mm:w/ coating","f":2.5263,"db":-21.7},{"series":"0.2 mm:w/ coating","f":2.5315,"db":-23.2},{"series":"0.2 mm:w/ coating","f":2.5333,"db":-24.8},{"series":"0.2 mm:w/ coating","f":2.535,"db":-27.4},{"series":"0.2 mm:w/ coating","f":2.5367,"db":-30.0},{"series":"0.2 mm:w/ coating","f":2.5385,"db":-31.6},{"series":"0.2 mm:w/ coating","f":2.5402,"db":-29.3},{"series":"0.2 mm:w/ coating","f":2.542,"db":-25.4},{"series":"0.2 mm:w/ coating","f":2.5446,"db":-21.4},{"series":"0.2 mm:w/ coating","f":2.5472,"db":-17.5},{"series":"0.2 mm:w/ coating","f":2.5498,"db":-15.4},{"series":"0.2 mm:w/ coating","f":2.5524,"db":-12.2},{"series":"0.2 mm:w/ coating","f":2.5559,"db":-10.2},{"series":"0.2 mm:w/ coating","f":2.5593,"db":-7.8},{"series":"0.2 mm:w/ coating","f":2.5663,"db":-5.7},{"series":"0.2 mm:w/ coating","f":2.5767,"db":-3.9},{"series":"0.2 mm:w/ coating","f":2.5889,"db":-2.7},{"series":"0.2 mm:w/ coating","f":2.6028,"db":-2.2},{"series":"0.2 mm:w/ coating","f":2.6202,"db":-1.78},{"series":"0.2 mm:w/ coating","f":2.6376,"db":-1.6},{"series":"0.2 mm:w/ coating","f":2.7,"db":-1.35},{"series":"0.2 mm:w/ coating","f":2.8,"db":-1.3},{"series":"0.2 mm:w/ coating","f":2.9,"db":-1.3},{"series":"0.2 mm:w/ coating","f":3.0,"db":-1.3}
]
},
"vconcat": [
{
  "width": 2300, "height": 760,
  "layer": [
    {
      "data": {"name": "s21"},
      "mark": {"type": "line", "strokeWidth": 8, "strokeCap": "butt", "strokeJoin": "round"},
      "encoding": {
        "x": {"field": "f", "type": "quantitative", "scale": {"domain": [2, 3.2], "nice": false, "zero": false},
              "axis": {"values": [2, 2.1, 2.2, 2.3, 2.4, 2.5, 2.6, 2.7, 2.8, 2.9, 3, 3.1, 3.2], "labelExpr": "round(datum.value*10)%2==0 ? format(datum.value,'.1f') : ''", "tickSize": {"condition": {"test": "round(datum.value*10)%2==1", "value": 16}, "value": 30}, "labelFontSize": 61, "labelPadding": 21, "title": null}},
        "y": {"field": "db", "type": "quantitative", "scale": {"domain": [-75, 0], "nice": false},
              "axis": {"values": [-75, -70, -65, -60, -55, -50, -45, -40, -35, -30, -25, -20, -15, -10, -5, 0], "labelExpr": "datum.value%10==0 ? ''+datum.value : ''", "tickSize": {"condition": {"test": "datum.value%10!=0", "value": 16}, "value": 30}, "labelFontSize": 61, "labelPadding": 27, "title": "S21 (dB)", "titleFontSize": 80, "titlePadding": 41, "titleY": 435}},
        "color": {"field": "series", "type": "nominal", "scale": {"domain": ["0.3 mm:w/o coating", "0.3 mm:w/ coating", "0.2 mm:w/o coating", "0.2 mm:w/ coating"], "range": ["#000000", "#ff0000", "#0000ff", "#008000"]},
                  "legend": {"orient": "none", "legendX": 410, "legendY": 373, "symbolSize": 33489, "labelOffset": 23}},
        "strokeDash": {"field": "series", "type": "nominal", "scale": {"domain": ["0.3 mm:w/o coating", "0.3 mm:w/ coating", "0.2 mm:w/o coating", "0.2 mm:w/ coating"], "range": [[1, 0], [29, 20], [7, 10], [26, 8, 6, 8]]},
                  "legend": {"orient": "none", "legendX": 410, "legendY": 373, "symbolSize": 33489, "labelOffset": 23}}
      }
    },
    {
      "layer": [
        {
          "data": {"values": [{"g": 2.4}, {"g": 2.5}, {"g": 2.6}]},
          "mark": {"type": "rule", "color": "#a0a0a0", "strokeWidth": 2},
          "encoding": {
            "x": {"field": "g", "type": "quantitative", "scale": {"domain": [2.3, 2.65], "range": [1495, 2232], "nice": false, "zero": false},
                  "axis": {"orient": "bottom", "offset": -477, "values": [2.3, 2.4, 2.5, 2.6], "format": ".1f", "domain": false, "ticks": false, "grid": false, "labelFontSize": 52, "labelPadding": 12, "title": null}},
            "y": {"datum": -5, "type": "quantitative", "scale": {"domain": [-5, -1.46], "range": [283, 11], "nice": false, "zero": false},
                  "axis": {"orient": "left", "offset": -1495, "values": [-4, -2], "labelExpr": "''+datum.value", "domain": false, "ticks": false, "grid": false, "labelFontSize": 52, "labelPadding": 16, "title": null}},
            "y2": {"datum": -1.46}
          }
        },
        {
          "data": {"values": [{"g": -4}, {"g": -2}]},
          "mark": {"type": "rule", "color": "#cccccc", "strokeWidth": 4},
          "encoding": {
            "x": {"datum": 2.3, "type": "quantitative", "scale": {"domain": [2.3, 2.65], "range": [1495, 2232], "nice": false, "zero": false},
                  "axis": {"orient": "bottom", "offset": -477, "values": [2.3, 2.4, 2.5, 2.6], "format": ".1f", "domain": false, "ticks": false, "grid": false, "labelFontSize": 52, "labelPadding": 12, "title": null}},
            "x2": {"datum": 2.65},
            "y": {"field": "g", "type": "quantitative", "scale": {"domain": [-5, -1.46], "range": [283, 11], "nice": false, "zero": false},
                  "axis": {"orient": "left", "offset": -1495, "values": [-4, -2], "labelExpr": "''+datum.value", "domain": false, "ticks": false, "grid": false, "labelFontSize": 52, "labelPadding": 16, "title": null}}
          }
        },
        {
          "data": {"values": [{"t": 2.35}, {"t": 2.45}, {"t": 2.55}]},
          "mark": {"type": "rule", "color": "#808080", "strokeWidth": 3},
          "encoding": {
            "x": {"field": "t", "type": "quantitative", "scale": {"domain": [2.3, 2.65], "range": [1495, 2232], "nice": false, "zero": false},
                  "axis": {"orient": "bottom", "offset": -477, "values": [2.3, 2.4, 2.5, 2.6], "format": ".1f", "domain": false, "ticks": false, "grid": false, "labelFontSize": 52, "labelPadding": 12, "title": null}},
            "y": {"datum": -5, "type": "quantitative", "scale": {"domain": [-5, -1.46], "range": [283, 11], "nice": false, "zero": false},
                  "axis": {"orient": "left", "offset": -1495, "values": [-4, -2], "labelExpr": "''+datum.value", "domain": false, "ticks": false, "grid": false, "labelFontSize": 52, "labelPadding": 16, "title": null}},
            "y2": {"datum": -4.86}
          }
        },
        {
          "data": {"values": [{"t": 2.35}, {"t": 2.45}, {"t": 2.55}]},
          "mark": {"type": "rule", "color": "#808080", "strokeWidth": 3},
          "encoding": {
            "x": {"field": "t", "type": "quantitative", "scale": {"domain": [2.3, 2.65], "range": [1495, 2232], "nice": false, "zero": false},
                  "axis": {"orient": "bottom", "offset": -477, "values": [2.3, 2.4, 2.5, 2.6], "format": ".1f", "domain": false, "ticks": false, "grid": false, "labelFontSize": 52, "labelPadding": 12, "title": null}},
            "y": {"datum": -1.46, "type": "quantitative", "scale": {"domain": [-5, -1.46], "range": [283, 11], "nice": false, "zero": false},
                  "axis": {"orient": "left", "offset": -1495, "values": [-4, -2], "labelExpr": "''+datum.value", "domain": false, "ticks": false, "grid": false, "labelFontSize": 52, "labelPadding": 16, "title": null}},
            "y2": {"datum": -1.6}
          }
        },
        {
          "data": {"values": [{"t": -3}]},
          "mark": {"type": "rule", "color": "#808080", "strokeWidth": 3},
          "encoding": {
            "x": {"datum": 2.3, "type": "quantitative", "scale": {"domain": [2.3, 2.65], "range": [1495, 2232], "nice": false, "zero": false},
                  "axis": {"orient": "bottom", "offset": -477, "values": [2.3, 2.4, 2.5, 2.6], "format": ".1f", "domain": false, "ticks": false, "grid": false, "labelFontSize": 52, "labelPadding": 12, "title": null}},
            "x2": {"datum": 2.3055},
            "y": {"field": "t", "type": "quantitative", "scale": {"domain": [-5, -1.46], "range": [283, 11], "nice": false, "zero": false},
                  "axis": {"orient": "left", "offset": -1495, "values": [-4, -2], "labelExpr": "''+datum.value", "domain": false, "ticks": false, "grid": false, "labelFontSize": 52, "labelPadding": 16, "title": null}}
          }
        },
        {
          "data": {"values": [{"t": -3}]},
          "mark": {"type": "rule", "color": "#808080", "strokeWidth": 3},
          "encoding": {
            "x": {"datum": 2.6445, "type": "quantitative", "scale": {"domain": [2.3, 2.65], "range": [1495, 2232], "nice": false, "zero": false},
                  "axis": {"orient": "bottom", "offset": -477, "values": [2.3, 2.4, 2.5, 2.6], "format": ".1f", "domain": false, "ticks": false, "grid": false, "labelFontSize": 52, "labelPadding": 12, "title": null}},
            "x2": {"datum": 2.65},
            "y": {"field": "t", "type": "quantitative", "scale": {"domain": [-5, -1.46], "range": [283, 11], "nice": false, "zero": false},
                  "axis": {"orient": "left", "offset": -1495, "values": [-4, -2], "labelExpr": "''+datum.value", "domain": false, "ticks": false, "grid": false, "labelFontSize": 52, "labelPadding": 16, "title": null}}
          }
        },
        {
          "data": {"values": [{"a": 1}]},
          "mark": {"type": "rect", "fill": "transparent", "stroke": "#8c8c8c", "strokeWidth": 4},
          "encoding": {
            "x": {"datum": 2.3, "type": "quantitative", "scale": {"domain": [2.3, 2.65], "range": [1495, 2232], "nice": false, "zero": false},
                  "axis": {"orient": "bottom", "offset": -477, "values": [2.3, 2.4, 2.5, 2.6], "format": ".1f", "domain": false, "ticks": false, "grid": false, "labelFontSize": 52, "labelPadding": 12, "title": null}},
            "x2": {"datum": 2.65},
            "y": {"datum": -5, "type": "quantitative", "scale": {"domain": [-5, -1.46], "range": [283, 11], "nice": false, "zero": false},
                  "axis": {"orient": "left", "offset": -1495, "values": [-4, -2], "labelExpr": "''+datum.value", "domain": false, "ticks": false, "grid": false, "labelFontSize": 52, "labelPadding": 16, "title": null}},
            "y2": {"datum": -1.46}
          }
        },
        {
          "data": {"name": "s21"},
          "transform": [{"filter": "datum.f >= 2.3 && datum.f <= 2.65 && datum.db >= -5.001"}],
          "mark": {"type": "line", "strokeWidth": 8, "strokeCap": "butt", "strokeJoin": "round"},
          "encoding": {
            "x": {"field": "f", "type": "quantitative", "scale": {"domain": [2.3, 2.65], "range": [1495, 2232], "nice": false, "zero": false},
                  "axis": {"orient": "bottom", "offset": -477, "values": [2.3, 2.4, 2.5, 2.6], "format": ".1f", "domain": false, "ticks": false, "grid": false, "labelFontSize": 52, "labelPadding": 12, "title": null}},
            "y": {"field": "db", "type": "quantitative", "scale": {"domain": [-5, -1.46], "range": [283, 11], "nice": false, "zero": false},
                  "axis": {"orient": "left", "offset": -1495, "values": [-4, -2], "labelExpr": "''+datum.value", "domain": false, "ticks": false, "grid": false, "labelFontSize": 52, "labelPadding": 16, "title": null}},
            "color": {"field": "series", "type": "nominal", "scale": {"domain": ["0.3 mm:w/o coating", "0.3 mm:w/ coating", "0.2 mm:w/o coating", "0.2 mm:w/ coating"], "range": ["#000000", "#ff0000", "#0000ff", "#008000"]}},
            "strokeDash": {"field": "series", "type": "nominal", "scale": {"domain": ["0.3 mm:w/o coating", "0.3 mm:w/ coating", "0.2 mm:w/o coating", "0.2 mm:w/ coating"], "range": [[1, 0], [29, 20], [7, 10], [26, 8, 6, 8]]}}
          }
        }
      ]
    }
  ],
  "resolve": {"scale": {"x": "independent", "y": "independent"}, "axis": {"x": "independent", "y": "independent"}}
},
{
  "width": 2300, "height": 760,
  "data": {"name": "s11"},
  "mark": {"type": "line", "strokeWidth": 8, "strokeCap": "butt", "strokeJoin": "round"},
  "encoding": {
    "x": {"field": "f", "type": "quantitative", "scale": {"domain": [2, 3.2], "nice": false, "zero": false},
          "axis": {"values": [2, 2.1, 2.2, 2.3, 2.4, 2.5, 2.6, 2.7, 2.8, 2.9, 3, 3.1, 3.2], "labelExpr": "round(datum.value*10)%2==0 ? format(datum.value,'.1f') : ''", "tickSize": {"condition": {"test": "round(datum.value*10)%2==1", "value": 16}, "value": 30}, "labelFontSize": 61, "labelPadding": 21, "title": "Frequency (GHz)", "titleFontSize": 80, "titlePadding": 52}},
    "y": {"field": "db", "type": "quantitative", "scale": {"domain": [-40, 0], "nice": false},
          "axis": {"values": [-40, -37.5, -35, -32.5, -30, -27.5, -25, -22.5, -20, -17.5, -15, -12.5, -10, -7.5, -5, -2.5, 0], "labelExpr": "abs(datum.value%5)<0.01 ? ''+datum.value : ''", "tickSize": {"condition": {"test": "abs(datum.value%5)>0.01", "value": 16}, "value": 30}, "labelFontSize": 61, "labelPadding": 27, "title": "S11 (dB)", "titleFontSize": 80, "titlePadding": 41, "titleY": 432}},
    "color": {"field": "series", "type": "nominal", "scale": {"domain": ["0.3 mm:w/o coating", "0.3 mm:w/ coating", "0.2 mm:w/o coating", "0.2 mm:w/ coating"], "range": ["#000000", "#ff0000", "#0000ff", "#008000"]},
              "legend": {"orient": "none", "legendX": 1194, "legendY": 328, "symbolSize": 36864, "labelOffset": 12}},
    "strokeDash": {"field": "series", "type": "nominal", "scale": {"domain": ["0.3 mm:w/o coating", "0.3 mm:w/ coating", "0.2 mm:w/o coating", "0.2 mm:w/ coating"], "range": [[1, 0], [29, 20], [7, 10], [26, 8, 6, 8]]},
              "legend": {"orient": "none", "legendX": 1194, "legendY": 328, "symbolSize": 36864, "labelOffset": 12}}
  }
}
],
"resolve": {"scale": {"color": "independent", "strokeDash": "independent"}, "legend": {"color": "independent", "strokeDash": "independent"}}
}
